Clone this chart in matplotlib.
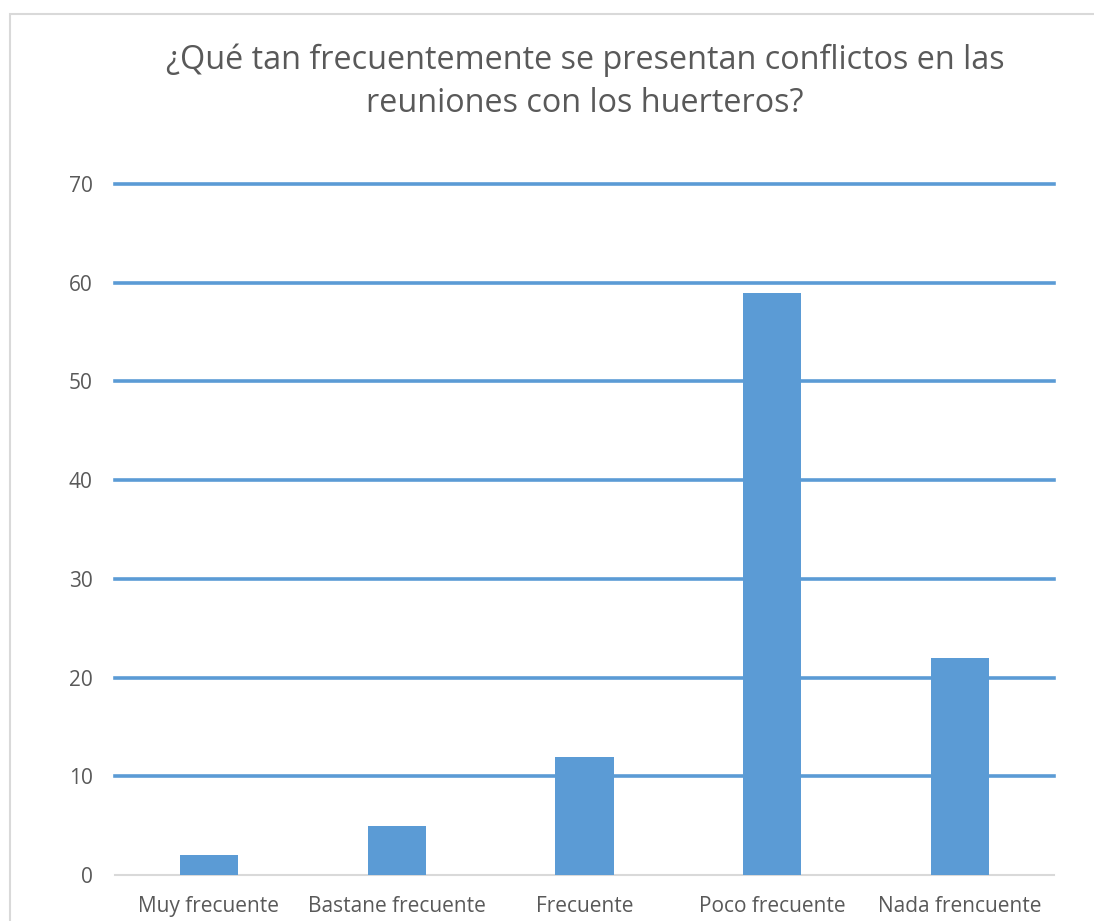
import matplotlib
matplotlib.use('Agg')
import matplotlib.pyplot as plt
from matplotlib.patches import Rectangle
import numpy as np

# data
categories = ['Muy frecuente', 'Bastane frecuente', 'Frecuente',
              'Poco frecuente', 'Nada frencuente']
counts = [2, 5, 12, 59, 22]
y_ticks = [0, 10, 20, 30, 40, 50, 60, 70]
title = u'\u00bfQu\u00e9 tan frecuentemente se presentan conflictos en las\nreuniones con los huerteros?'

plt.rcParams['font.family'] = ['Open Sans', 'DejaVu Sans']

bar_color = '#5B9BD5'
grid_color = '#5B9BD5'
text_color = '#595959'

fig = plt.figure(figsize=(10.94, 9.21), dpi=100)
W, H = 1094.0, 921.0

# outer chart border (light gray), cut by the image edge on right and bottom
fig.patches.append(Rectangle((10 / W, -0.1), 1.2, (H - 14) / H + 0.1,
                             transform=fig.transFigure, fill=False,
                             edgecolor='#D9D9D9', linewidth=1.5))

ax = fig.add_axes([115 / W, 46 / H, 939 / W, 691 / H])
ind = np.arange(len(categories))
ax.bar(ind, counts, width=0.31, color=bar_color, zorder=3)

ax.set_xlim(-0.5, len(categories) - 0.5)
ax.set_ylim(0, 70)
ax.set_yticks(y_ticks)
for val in y_ticks[1:]:
    ax.axhline(val, color=grid_color, linewidth=2.6, zorder=1, clip_on=False)
ax.axhline(0, color='#D9D9D9', linewidth=1.5, zorder=2, clip_on=False)

for side in ['top', 'right', 'left', 'bottom']:
    ax.spines[side].set_visible(False)

ax.set_xticks(ind)
ax.set_xticklabels(categories)
ax.tick_params(axis='both', length=0, labelsize=15, colors=text_color)
ax.tick_params(axis='y', pad=16)
ax.tick_params(axis='x', pad=15)

fig.text(585 / W, 1 - 81.5 / H, title, ha='center', va='center',
         fontsize=23.3, color=text_color, linespacing=1.4)

fig.savefig('out.png', dpi=100)
